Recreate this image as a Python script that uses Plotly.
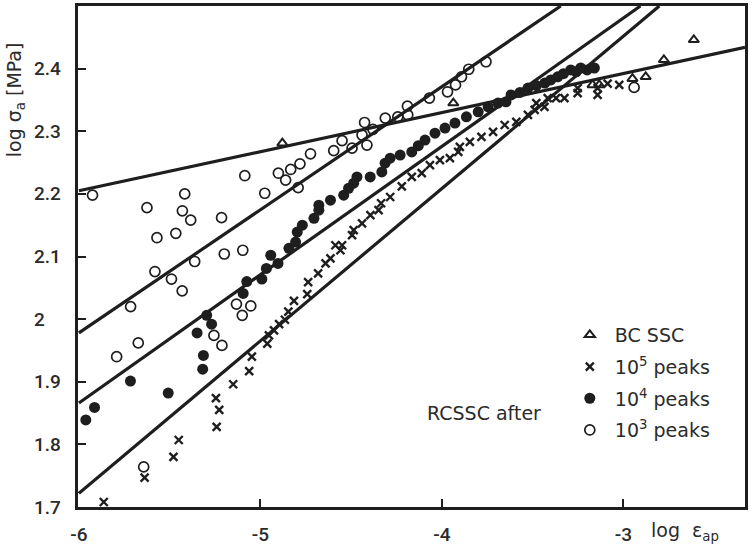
import plotly.graph_objects as go

# ---- data ----
o_x = [-5.925, -5.625, -5.417, -5.43, -5.384, -5.57, -5.466, -5.214, -5.086, -4.976,
       -5.199, -5.097, -5.362, -5.581, -5.49, -5.431, -5.715, -5.673, -5.792, -5.132,
       -5.053, -5.10, -5.256, -5.212, -5.643, -4.901, -4.861, -4.833, -4.782, -4.724,
       -4.792, -4.596, -4.55, -4.495, -4.44, -4.426, -4.413, -4.38, -4.312, -4.243,
       -4.188, -4.19, -4.069, -3.969, -3.925, -3.892, -3.852, -3.757, -2.941]
o_y = [2.198, 2.178, 2.200, 2.173, 2.158, 2.130, 2.137, 2.162, 2.229, 2.201,
       2.104, 2.110, 2.092, 2.076, 2.064, 2.045, 2.020, 1.962, 1.940, 2.024,
       2.021, 2.006, 1.974, 1.958, 1.764, 2.233, 2.222, 2.239, 2.248, 2.264,
       2.210, 2.269, 2.285, 2.273, 2.294, 2.314, 2.278, 2.303, 2.321, 2.323,
       2.326, 2.340, 2.353, 2.363, 2.374, 2.387, 2.399, 2.411, 2.370]

f_x = [-5.962, -5.914, -5.716, -5.508, -5.318, -5.349, -5.314, -5.296, -5.269, -5.095,
       -5.075, -4.992, -4.967, -4.943, -4.903, -4.843, -4.806, -4.797, -4.769, -4.705,
       -4.678, -4.678, -4.614, -4.541, -4.514, -4.486, -4.468, -4.395, -4.331, -4.313,
       -4.285, -4.230, -4.166, -4.13, -4.093, -4.038, -3.983, -3.928, -3.865, -3.80,
       -3.745, -3.691, -3.647, -3.619, -3.57, -3.526, -3.48, -3.433, -3.40, -3.362,
       -3.33, -3.29, -3.26, -3.235, -3.20, -3.16]
f_y = [1.839, 1.859, 1.901, 1.882, 1.920, 1.978, 1.942, 2.006, 1.992, 2.041,
       2.060, 2.064, 2.081, 2.102, 2.089, 2.113, 2.123, 2.139, 2.150, 2.161,
       2.174, 2.182, 2.190, 2.198, 2.209, 2.217, 2.227, 2.227, 2.235, 2.249,
       2.257, 2.262, 2.267, 2.277, 2.286, 2.297, 2.305, 2.313, 2.323, 2.331,
       2.339, 2.345, 2.347, 2.358, 2.362, 2.369, 2.373, 2.377, 2.382, 2.387,
       2.392, 2.398, 2.395, 2.401, 2.398, 2.401]

x_x = [-5.863, -5.638, -5.479, -5.45, -5.241, -5.227, -5.245, -5.150, -5.062, -5.047,
       -4.962, -4.953, -4.925, -4.897, -4.865, -4.846, -4.815, -4.742, -4.737, -4.682,
       -4.641, -4.614, -4.587, -4.559, -4.55, -4.495, -4.486, -4.44, -4.394, -4.349,
       -4.335, -4.285, -4.221, -4.166, -4.111, -4.066, -4.011, -3.956, -3.910, -3.901,
       -3.846, -3.782, -3.718, -3.654, -3.59, -3.526, -3.489, -3.48, -3.435, -3.417,
       -3.371, -3.325, -3.252, -3.252, -3.142, -3.142, -3.087, -3.023]
x_y = [1.708, 1.747, 1.780, 1.807, 1.828, 1.855, 1.874, 1.896, 1.917, 1.940,
       1.961, 1.974, 1.982, 1.992, 1.999, 2.012, 2.029, 2.040, 2.059, 2.073,
       2.089, 2.097, 2.118, 2.110, 2.118, 2.134, 2.142, 2.153, 2.166, 2.174,
       2.185, 2.195, 2.212, 2.227, 2.233, 2.246, 2.254, 2.257, 2.267, 2.275,
       2.283, 2.291, 2.299, 2.310, 2.315, 2.326, 2.334, 2.345, 2.339, 2.353,
       2.353, 2.353, 2.361, 2.369, 2.369, 2.358, 2.376, 2.374]

t_x = [-4.879, -3.937, -3.17, -3.133, -2.95, -2.877, -2.777, -2.612]
t_y = [2.281, 2.345, 2.374, 2.374, 2.384, 2.387, 2.414, 2.446]

# fitted straight lines (end points)
bc_line_x = [-6.0, -2.33]
bc_line_y = [2.205, 2.434]
p3_line_x = [-6.0, -3.345]
p3_line_y = [1.978, 2.5]
p4_line_x = [-6.0, -2.906]
p4_line_y = [1.866, 2.5]
p5_line_x = [-6.0, -2.802]
p5_line_y = [1.722, 2.5]

x_ticks = [-6, -5, -4, -3]
x_tick_text = ["-6", "-5", "-4", "-3"]
y_ticks = [1.7, 1.8, 1.9, 2.0, 2.1, 2.2, 2.3, 2.4]
y_tick_text = ["1.7", "1.8", "1.9", "2", "2.1", "2.2", "2.3", "2.4"]

names = ["BC SSC", "10<sup>5</sup> peaks", "10<sup>4</sup> peaks", "10<sup>3</sup> peaks"]

INK = "#1e1e1e"
TXT = "#2b2b2b"
TICKFONT = dict(family="Roboto", size=19, color=TXT, weight=500)
TEXTFONT = dict(family="DejaVu Sans", size=19, color=TXT)

fig = go.Figure()

for lx, ly in [(bc_line_x, bc_line_y), (p3_line_x, p3_line_y),
               (p4_line_x, p4_line_y), (p5_line_x, p5_line_y)]:
    fig.add_trace(go.Scatter(x=lx, y=ly, mode="lines", showlegend=False,
                             line=dict(color=INK, width=3.2), hoverinfo="skip"))

fig.add_trace(go.Scatter(x=t_x, y=t_y, mode="markers", name=names[0], legendgroup="a",
                         marker=dict(symbol="triangle-up-open", size=9, color=INK,
                                     line=dict(width=2, color=INK))))
fig.add_trace(go.Scatter(x=x_x, y=x_y, mode="markers", name=names[1], legendgroup="b",
                         marker=dict(symbol="x-thin", size=8, color=INK,
                                     line=dict(width=2.4, color=INK))))
fig.add_trace(go.Scatter(x=f_x, y=f_y, mode="markers", name=names[2], legendgroup="c",
                         marker=dict(symbol="circle", size=11, color=INK,
                                     line=dict(width=0))))
fig.add_trace(go.Scatter(x=o_x, y=o_y, mode="markers", name=names[3], legendgroup="d",
                         marker=dict(symbol="circle-open", size=10, color=INK,
                                     line=dict(width=1.7, color=INK))))

W, H = 750, 552
L, R, T, B = 78, 2, 6, 45
pw, ph = W - L - R, H - T - B


def px(xp):
    return (xp - L) / pw


def py(yp):
    return (H - B - yp) / ph


annotations = []
for v, t in zip(y_ticks, y_tick_text):
    annotations.append(dict(x=px(32), y=v, xref="paper", yref="y", text=t,
                            showarrow=False, xanchor="left", yanchor="middle",
                            font=TICKFONT))
annotations.append(dict(x=px(16), y=py(100), xref="paper", yref="paper",
                        text="log σ<sub>a</sub> [MPa]", textangle=-90, showarrow=False,
                        xanchor="center", yanchor="middle", font=TEXTFONT))
annotations.append(dict(x=px(652), y=py(531), xref="paper", yref="paper",
                        text="log  ε<sub>ap</sub>", showarrow=False,
                        xanchor="left", yanchor="middle", font=TEXTFONT))
annotations.append(dict(x=px(427), y=py(413), xref="paper", yref="paper",
                        text="RCSSC after", showarrow=False,
                        xanchor="left", yanchor="middle", font=TEXTFONT))

fig.update_layout(
    width=W, height=H,
    margin=dict(l=L, r=R, t=T, b=B),
    paper_bgcolor="white", plot_bgcolor="white",
    showlegend=True,
    legend=dict(x=px(567), y=py(316), xanchor="left", yanchor="top",
                font=TEXTFONT, bgcolor="rgba(0,0,0,0)", tracegroupgap=4,
                itemsizing="trace", itemwidth=40),
    annotations=annotations,
    xaxis=dict(range=[-6.005, -2.33], tickvals=x_ticks, ticktext=x_tick_text,
               ticks="inside", ticklen=8, tickwidth=2, tickcolor=INK,
               showline=True, linewidth=2.5, linecolor=INK, mirror=True,
               showgrid=False, zeroline=False, ticklabelstandoff=8,
               tickfont=TICKFONT),
    yaxis=dict(range=[1.7, 2.5], tickvals=y_ticks, showticklabels=False,
               ticks="inside", ticklen=8, tickwidth=2, tickcolor=INK,
               showline=True, linewidth=2.5, linecolor=INK, mirror=True,
               showgrid=False, zeroline=False),
)

fig.write_html("out.html")
